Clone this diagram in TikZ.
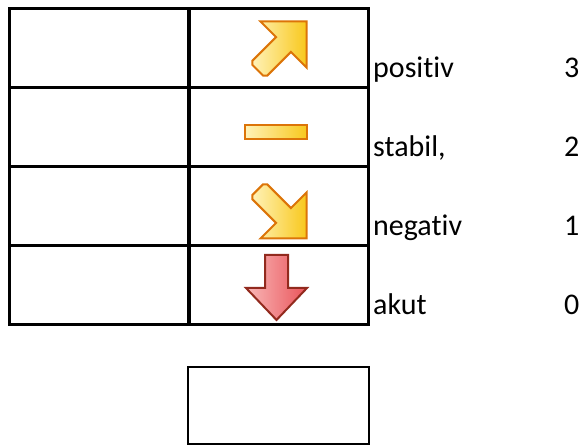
\documentclass[tikz,border=0pt]{standalone}
\usepackage{fontspec}
\setmainfont{Carlito}[RawFeature={-liga;-clig}]
\usetikzlibrary{positioning}
\definecolor{arrline}{HTML}{DC7408}
\definecolor{arrlight}{HTML}{FFF2B8}
\definecolor{arrgold}{HTML}{F8C81C}
\definecolor{downline}{HTML}{922A1E}
\definecolor{downlight}{HTML}{F9B8B8}
\definecolor{downred}{HTML}{E9545A}

\begin{document}
\begin{tikzpicture}
[x=1pt,y=1pt,
   cell/.style={draw,line width=3pt,minimum width=179pt,minimum height=79pt,inner sep=0pt,outer sep=0pt},
   rowtext/.style={anchor=base west,inner sep=0pt,font=\fontsize{30}{36}\selectfont},
   trend/.style={draw=arrline,line width=2pt,left color=arrlight,right color=arrgold},
   drop/.style={draw=downline,line width=2pt,left color=downlight,right color=downred}]
\useasboundingbox (0,0) rectangle (587,446);

% table
\foreach \r/\y in {1/397.5,2/318.5,3/239.5,4/160.5} {
    \node[cell] (l\r) at (98.5,\y) {};
    \node[cell] (r\r) at (278.5,\y) {};
}
\node[cell,line width=2.5pt,minimum width=181pt,minimum height=77pt] (res) at (278.5,40.5) {};

% labels
\foreach \r/\w/\n in {1/positiv/3,2/{stabil,}/2,3/negativ/1,4/akut/0} {
    \node[rowtext] (w\r) at ([xshift=5pt,yshift=10.5pt]r\r.south east) {\w};
    \node[rowtext] (n\r) at ([xshift=196pt,yshift=10.5pt]r\r.south east) {\n};
}

% trend icons
\foreach \ang/\tx/\ty in {45/306.5/424.5,-45/306.5/207.5}
    \draw[trend,shift={(\tx,\ty)},rotate=\ang] (0,0) -- (-32.5,32.5) -- (-32.5,10.5) -- (-66,10.5)
        -- (-69,7.5) -- (-69,-7.5) -- (-66,-10.5) -- (-32.5,-10.5) -- (-32.5,-32.5) -- cycle;
\node[trend,minimum width=62pt,minimum height=14pt,inner sep=0pt] (bar) at (276,314) {};
\draw[drop] (265,191) -- (288,191) -- (288,158) -- (307,158) -- (276.5,126) -- (246,158) -- (265,158) -- cycle;
\end{tikzpicture}
\end{document}
